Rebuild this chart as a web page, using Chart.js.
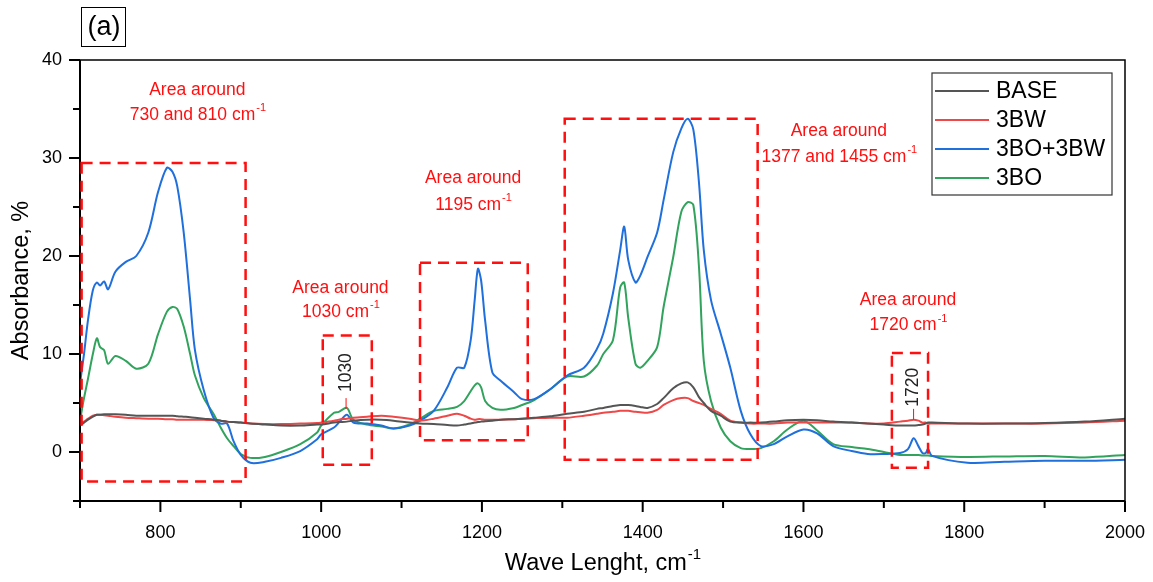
<!DOCTYPE html>
<html>
<head>
<meta charset="utf-8">
<script src="https://cdn.jsdelivr.net/npm/chart.js@4.4.1/dist/chart.umd.min.js"></script>
<style>
  body { margin: 0; background: #fff; }
</style>
</head>
<body>
<canvas id="ftir-chart" width="1153" height="582"></canvas>
<script>
//////////////////
// FTIR spectra (a)

var waveNumbers = [700,705,710,716,721,725,730,735,744,757,770,785,797,808,815,821,829,837,843,854,866,875,883,891,900,912,930,950,974,995,1000,1016,1022,1032,1040,1057,1075,1090,1110,1123,1140,1157,1169,1178,1186,1191,1195,1199,1204,1213,1223,1240,1250,1265,1285,1306,1327,1343,1351,1363,1372,1377,1382,1391,1397,1406,1418,1426,1438,1448,1456,1463,1470,1476,1485,1497,1509,1522,1534,1547,1563,1580,1600,1617,1637,1660,1680,1700,1720,1730,1737,1743,1748,1752,1755,1760,1804,1850,1900,1950,2000];

var baseData = [2.7,3.0,3.3,3.6,3.8,3.8,3.85,3.85,3.85,3.8,3.7,3.7,3.7,3.7,3.7,3.65,3.6,3.55,3.5,3.4,3.3,3.2,3.1,3.05,3.0,2.9,2.8,2.7,2.7,2.8,2.8,3.0,3.05,3.1,3.2,3.3,3.3,3.2,3.0,2.9,2.85,2.75,2.7,2.8,2.9,3.0,3.05,3.1,3.15,3.2,3.3,3.35,3.4,3.5,3.65,3.9,4.1,4.4,4.5,4.7,4.8,4.8,4.8,4.7,4.6,4.5,4.9,5.5,6.5,7.0,7.1,6.6,5.6,5.0,4.2,3.7,3.1,3.0,3.0,3.0,3.1,3.25,3.3,3.25,3.1,3.0,2.9,2.8,2.7,2.7,2.7,2.75,2.8,2.9,3.0,3.0,2.9,2.9,2.95,3.1,3.4];

var bwData = [2.9,3.1,3.4,3.7,3.8,3.8,3.75,3.7,3.6,3.5,3.45,3.4,3.4,3.35,3.35,3.3,3.3,3.3,3.3,3.3,3.25,3.2,3.1,3.05,3.0,2.9,2.85,2.85,2.9,2.95,3.0,3.2,3.3,3.4,3.5,3.6,3.7,3.6,3.4,3.2,3.4,3.7,3.9,3.7,3.4,3.3,3.35,3.35,3.3,3.3,3.3,3.35,3.4,3.45,3.5,3.5,3.7,3.9,4.0,4.1,4.2,4.2,4.2,4.1,4.05,4.0,4.3,4.8,5.3,5.5,5.5,5.2,5.0,4.8,4.4,3.9,3.2,3.0,2.9,2.9,2.9,3.0,3.0,3.0,3.0,3.0,2.9,2.9,3.1,3.2,3.3,3.2,3.0,3.0,2.9,2.9,2.9,2.9,2.9,3.0,3.2];

var boBwData = [7.0,10.0,13.5,16.5,17.3,17.0,17.4,16.6,18.4,19.4,20.0,22.4,26.5,29.0,28.6,27.1,22.4,15.5,10.4,6.3,3.5,2.9,2.9,1.1,-0.3,-1.1,-1.0,-0.6,0.1,1.3,1.8,2.5,3.0,3.8,3.0,2.9,2.7,2.4,2.7,3.2,4.2,6.6,8.6,8.6,11.4,15.5,18.7,17.5,13.4,8.1,7.3,6.1,5.4,5.4,6.4,7.8,8.6,10.5,12.1,16.2,20.6,23.0,19.6,17.3,18.0,19.9,22.4,25.7,30.6,33.0,34.0,32.9,27.5,20.6,15.5,12.1,8.6,4.2,1.8,0.6,0.8,1.6,2.3,1.9,0.6,0.1,-0.2,-0.2,-0.1,0.3,1.4,0.6,-0.1,-0.1,0.3,-0.4,-1.1,-1.0,-0.9,-0.9,-0.8];

var boData = [3.2,5.5,7.5,10.0,11.6,10.7,10.4,9.0,9.8,9.3,8.5,9.0,12.0,14.3,14.8,14.6,12.8,10.0,7.8,5.5,3.9,2.5,1.4,0.6,-0.2,-0.6,-0.5,0.0,0.8,2.0,2.7,4.0,4.1,4.5,3.3,2.8,2.6,2.4,2.8,3.4,4.2,4.4,4.6,5.2,6.2,6.8,7.0,6.6,5.2,4.5,4.3,4.5,4.8,5.3,6.4,7.7,7.7,8.8,10.0,11.4,16.8,17.3,13.7,9.0,8.6,9.3,10.7,14.8,19.9,24.5,25.5,25.2,18.9,9.3,5.2,2.5,1.1,0.4,0.3,0.4,1.1,2.3,3.2,2.2,0.8,0.5,0.3,0.0,-0.3,-0.3,-0.3,-0.3,-0.35,-0.35,-0.35,-0.4,-0.5,-0.45,-0.4,-0.55,-0.3];

var seriesLabels = ["BASE","3BW","3BO+3BW","3BO"];
var seriesColors = ["#555555","#ee4848","#1f6fdc","#31a35c"];

var xTickValues = [800,1000,1200,1400,1600,1800,2000];
var yTickValues = [0,10,20,30,40];

// dashed boxes [xFrom, xTo, yFrom, yTo] in axis units
var areaBoxes = [
  [702, 906, -3.0, 29.5],
  [1002, 1063, -1.3, 11.9],
  [1123, 1257, 1.2, 19.3],
  [1303, 1543, -0.8, 34.0],
  [1710, 1755, -1.6, 10.1]
];
// text: [x, yLine1, yLine2, second line]
var areaNotes = [
  [846, 36.9, 34.4, "730 and 810 cm"],
  [1024, 16.7, 14.3, "1030 cm"],
  [1189, 27.9, 25.2, "1195 cm"],
  [1644, 32.7, 30.1, "1377 and 1455 cm"],
  [1730, 15.5, 12.9, "1720 cm"]
];
// peak marks: [x, labelCenterY, lineFrom, lineTo, text]
var peakMarks = [
  [1031, 8.1, 4.4, 5.5, "1030"],
  [1737, 6.6, 3.3, 4.4, "1720"]
];

var FONT = "'Liberation Sans', Arial, sans-serif";
var NOTE_RED = "#ff0f0f";

function makeSet(i, values) {
  return {
    label: seriesLabels[i],
    data: waveNumbers.map(function(x, k){ return {x: x, y: values[k]}; }),
    borderColor: seriesColors[i],
    backgroundColor: seriesColors[i],
    borderWidth: 2,
    pointRadius: 0,
    tension: 0.3,
    fill: false
  };
}

function textWithSup(ctx, base, sup, cx, cy, size, color) {
  ctx.font = size + "px " + FONT;
  var wb = ctx.measureText(base).width;
  ctx.font = Math.round(size * 0.62) + "px " + FONT;
  var ws = ctx.measureText(sup).width;
  var x0 = cx - (wb + ws) / 2;
  ctx.fillStyle = color;
  ctx.textAlign = "left";
  ctx.textBaseline = "middle";
  ctx.font = size + "px " + FONT;
  ctx.fillText(base, x0, cy);
  ctx.font = Math.round(size * 0.62) + "px " + FONT;
  ctx.fillText(sup, x0 + wb + 1, cy - size * 0.38);
}

var decorations = {
  id: "decorations",
  afterDraw: function(chart) {
    var ctx = chart.ctx;
    var a = chart.chartArea;
    var xs = chart.scales.x, ys = chart.scales.y;
    ctx.save();

    // frame
    ctx.strokeStyle = "#000";
    ctx.lineWidth = 1.5;
    ctx.beginPath();
    ctx.moveTo(a.left, a.top); ctx.lineTo(a.right, a.top); ctx.lineTo(a.right, a.bottom);
    ctx.stroke();
    ctx.lineWidth = 2;
    ctx.beginPath();
    ctx.moveTo(a.left, a.top); ctx.lineTo(a.left, a.bottom); ctx.lineTo(a.right, a.bottom);
    ctx.stroke();

    // ticks (major + minor)
    ctx.lineWidth = 2;
    for (var v = 700; v <= 2000; v += 100) {
      var px = xs.getPixelForValue(v);
      var len = (v % 200 === 0) ? 11 : 7;
      ctx.beginPath(); ctx.moveTo(px, a.bottom); ctx.lineTo(px, a.bottom + len); ctx.stroke();
    }
    for (var w = -5; w <= 40; w += 5) {
      var py = ys.getPixelForValue(w);
      var l2 = (w % 10 === 0) ? 11 : 7;
      ctx.beginPath(); ctx.moveTo(a.left, py); ctx.lineTo(a.left - l2, py); ctx.stroke();
    }

    // x title
    textWithSup(ctx, "Wave Lenght, cm", "-1", (a.left + a.right) / 2, 564, 23.5, "#000");

    // dashed area boxes
    ctx.strokeStyle = NOTE_RED;
    ctx.lineWidth = 2.5;
    ctx.setLineDash([11, 7]);
    areaBoxes.forEach(function(b) {
      var x1 = xs.getPixelForValue(b[0]), x2 = xs.getPixelForValue(b[1]);
      var y1 = ys.getPixelForValue(b[3]), y2 = ys.getPixelForValue(b[2]);
      ctx.strokeRect(x1, y1, x2 - x1, y2 - y1);
    });
    ctx.setLineDash([]);

    // area notes
    areaNotes.forEach(function(n) {
      var cx = xs.getPixelForValue(n[0]);
      ctx.font = "17.5px " + FONT;
      ctx.fillStyle = NOTE_RED;
      ctx.textAlign = "center";
      ctx.textBaseline = "middle";
      ctx.fillText("Area around", cx, ys.getPixelForValue(n[1]));
      textWithSup(ctx, n[3], "-1", cx, ys.getPixelForValue(n[2]), 17.5, NOTE_RED);
    });

    // peak marks
    peakMarks.forEach(function(p) {
      var cx = xs.getPixelForValue(p[0]);
      ctx.strokeStyle = NOTE_RED;
      ctx.lineWidth = 1;
      ctx.beginPath();
      ctx.moveTo(cx, ys.getPixelForValue(p[2]));
      ctx.lineTo(cx, ys.getPixelForValue(p[3]));
      ctx.stroke();
      ctx.save();
      ctx.translate(cx, ys.getPixelForValue(p[1]));
      ctx.rotate(-Math.PI / 2);
      ctx.font = "17.5px " + FONT;
      ctx.fillStyle = "#222";
      ctx.textAlign = "center";
      ctx.textBaseline = "middle";
      ctx.fillText(p[4], 0, 0);
      ctx.restore();
    });

    // legend box
    var lx = a.right - 193, ly = a.top + 13;
    ctx.fillStyle = "#fff";
    ctx.fillRect(lx, ly, 180, 122);
    ctx.strokeStyle = "#333";
    ctx.lineWidth = 1.2;
    ctx.strokeRect(lx, ly, 180, 122);
    seriesLabels.forEach(function(lab, i) {
      var ry = ly + 18 + i * 29;
      ctx.strokeStyle = seriesColors[i];
      ctx.lineWidth = 2.2;
      ctx.beginPath(); ctx.moveTo(lx + 3, ry); ctx.lineTo(lx + 57, ry); ctx.stroke();
      ctx.font = "23px " + FONT;
      ctx.fillStyle = "#000";
      ctx.textAlign = "left";
      ctx.textBaseline = "middle";
      ctx.fillText(lab, lx + 64, ry + 1);
    });

    // panel tag
    ctx.strokeStyle = "#000";
    ctx.lineWidth = 1;
    ctx.strokeRect(81.5, 7.5, 44, 39);
    ctx.font = "27px " + FONT;
    ctx.fillStyle = "#000";
    ctx.textAlign = "center";
    ctx.textBaseline = "middle";
    ctx.fillText("(a)", 104, 28);

    ctx.restore();
  }
};

var ctxFtir = document.getElementById("ftir-chart").getContext("2d");
var ftirChart = new Chart(ctxFtir, {
  type: "line",
  data: {
    datasets: [
      makeSet(0, baseData),
      makeSet(1, bwData),
      makeSet(2, boBwData),
      makeSet(3, boData)
    ]
  },
  options: {
    responsive: false,
    animation: false,
    layout: { padding: { left: 0, right: 28, top: 60, bottom: 0 } },
    plugins: {
      legend: { display: false },
      tooltip: { enabled: false }
    },
    scales: {
      x: {
        type: "linear",
        min: 700,
        max: 2000,
        afterBuildTicks: function(scale) { scale.ticks = xTickValues.map(function(v){ return {value: v}; }); },
        afterFit: function(scale) { scale.height = 81; scale.paddingLeft = 0; scale.paddingRight = 0; },
        grid: { display: false, drawTicks: false },
        border: { display: false },
        ticks: {
          color: "#000", padding: 21, maxRotation: 0,
          font: { size: 18, family: FONT },
          callback: function(v) { return String(v); }
        }
      },
      y: {
        min: -5,
        max: 40,
        afterBuildTicks: function(scale) { scale.ticks = yTickValues.map(function(v){ return {value: v}; }); },
        afterFit: function(scale) { scale.width = 80; scale.paddingTop = 0; scale.paddingBottom = 0; },
        grid: { display: false, drawTicks: false },
        border: { display: false },
        ticks: {
          color: "#000", padding: 18,
          font: { size: 18, family: FONT },
          callback: function(v) { return String(v); }
        },
        title: { display: true, text: "Absorbance, %", color: "#000", padding: { top: 7, bottom: 0 }, font: { size: 23.5, family: FONT } }
      }
    }
  },
  plugins: [decorations]
});
</script>
</body>
</html>
